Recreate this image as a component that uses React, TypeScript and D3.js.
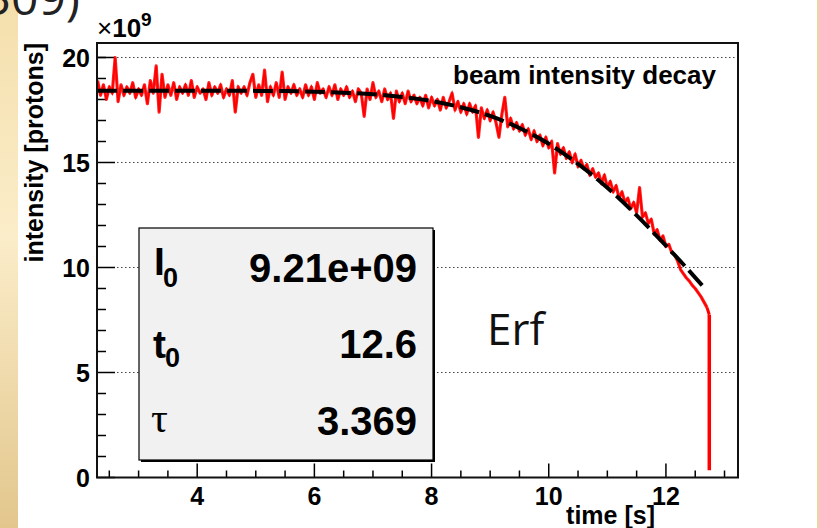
import React from "react";
import * as d3 from "d3";

// measured trace, sampled every 0.05 s from 2.30 s (x10^9 protons)
const traceStart = 2.3;
const traceStep = 0.05;
const traceValues = [
  18.9, 18.2, 18.7, 18.0, 18.6, 18.3, 20.0, 17.9, 18.7, 18.2,
  18.6, 18.3, 18.8, 18.1, 18.5, 18.2, 18.7, 17.8, 18.9, 18.3,
  19.6, 17.4, 19.2, 18.1, 18.7, 18.2, 18.8, 18.0, 18.6, 18.3,
  18.7, 18.2, 18.9, 18.1, 18.6, 18.3, 18.5, 18.0, 18.8, 18.2,
  18.6, 18.3, 18.7, 18.1, 18.5, 18.2, 18.9, 17.4, 18.6, 18.3,
  18.6, 18.2, 18.8, 19.2, 18.1, 18.7, 18.2, 19.4, 17.9, 18.6,
  18.2, 18.8, 18.1, 19.3, 18.0, 18.6, 18.3, 18.7, 18.2, 18.5,
  18.1, 18.7, 18.2, 18.6, 18.0, 18.8, 18.3, 18.5, 18.1, 18.6,
  18.2, 18.7, 18.0, 18.5, 18.2, 18.6, 18.1, 18.4, 17.9, 18.5,
  18.3, 17.2, 18.5, 18.0, 18.8, 18.1, 18.4, 17.9, 18.5, 18.0,
  18.3, 17.1, 18.4, 17.9, 18.3, 17.8, 18.4, 17.9, 18.2, 17.8,
  18.1, 17.7, 18.2, 17.6, 18.1, 17.7, 18.0, 17.5, 18.1, 17.6,
  17.9, 18.3, 17.5, 17.9, 17.4, 17.8, 17.3, 17.8, 17.4, 17.7,
  16.2, 17.6, 17.1, 17.5, 17.0, 17.4, 16.9, 16.2, 17.3, 18.1,
  16.7, 17.1, 16.6, 16.9, 16.5, 16.8, 16.3, 16.6, 16.1, 16.5,
  16.0, 16.3, 15.8, 16.2, 15.7, 16.0, 14.5, 15.9, 15.4, 15.7,
  15.2, 15.5, 15.0, 15.4, 14.8, 15.1, 14.7, 14.9, 14.4, 14.7,
  14.3, 14.5, 14.0, 14.4, 13.8, 14.1, 13.6, 13.9, 13.3, 13.6,
  13.1, 13.3, 12.8, 13.1, 12.6, 13.8, 12.4, 12.6, 12.1, 12.3,
  11.6, 11.8, 11.3, 11.5, 11.0, 11.1, 10.7, 10.6, 10.3, 9.9,
  9.7, 9.5, 9.35, 9.15, 9.0, 8.8, 8.6, 8.35, 8.1,
];
// beam dump at the end of the spill
const dropT = [12.74, 12.74];
const dropValues = [7.75, 0.35];

// Erf fit curve
const fitT = [2.29, 3, 4, 5, 5.5, 6, 6.5, 7, 7.5, 8, 8.5, 9, 9.5, 10, 10.5, 11, 11.5, 12, 12.25, 12.5, 12.67];
const fitValues = [18.42, 18.42, 18.42, 18.41, 18.4, 18.37, 18.32, 18.25, 18.12, 17.93, 17.63, 17.22, 16.64, 15.89, 14.93, 13.8, 12.48, 11.04, 10.29, 9.52, 8.99];

const xMajor = [4, 6, 8, 10, 12];
const xMinor = [2.5, 3, 3.5, 4.5, 5, 5.5, 6.5, 7, 7.5, 8.5, 9, 9.5, 10.5, 11, 11.5, 12.5, 13];
const yMajor = [0, 5, 10, 15, 20];
const yMinor = [1, 2, 3, 4, 6, 7, 8, 9, 11, 12, 13, 14, 16, 17, 18, 19, 20];
const gridY = [5, 10, 15, 20];

const statNames = ["I", "t", "τ"];
const statValues = ["9.21e+09", "12.6", "3.369"];

const W = 819;
const H = 528;
const frame = { left: 97, right: 738, top: 43, bottom: 477.5 };
const helv = "'Liberation Sans', Arial, Helvetica, sans-serif";

export default function App() {
  const x = d3.scaleLinear().domain([2.29, 13.23]).range([frame.left, frame.right]);
  const y = d3.scaleLinear().domain([0, 20.69]).range([frame.bottom, frame.top]);

  const trace = traceValues.map((v, i) => [traceStart + i * traceStep, v]);
  const line = d3
    .line()
    .x((d) => x(d[0]))
    .y((d) => y(d[1]));
  const drop = dropT.map((t, i) => [t, dropValues[i]]);
  const fitLine = d3
    .line()
    .curve(d3.curveMonotoneX)
    .x((d) => x(d[0]))
    .y((d) => y(d[1]));
  const fit = fitT.map((t, i) => [t, fitValues[i]]);

  const statRows = [275, 358, 432];
  const valueRows = [282, 358, 435];

  return (
    <svg width={W} height={H} style={{ position: "absolute", left: 0, top: 0, background: "#fff" }}>
      <defs>
        <linearGradient id="strip" x1="0" y1="0" x2="0" y2="1">
          <stop offset="0" stopColor="#f4dfac" />
          <stop offset="0.45" stopColor="#fbedc9" />
          <stop offset="1" stopColor="#e2c68c" />
        </linearGradient>
      </defs>
      <rect x={0} y={0} width={18} height={H} fill="url(#strip)" />
      <rect x={817} y={0} width={2} height={H} fill="#ead6a4" />
      <text x={80} y={15} textAnchor="end" fontFamily="'Open Sans', sans-serif" fontSize={48} fill="#222">
        309)
      </text>

      {/* grid */}
      {gridY.map((v) => (
        <line key={v} x1={frame.left} x2={frame.right} y1={y(v)} y2={y(v)} stroke="#444" strokeWidth={1} strokeDasharray="1.5 2.5" />
      ))}

      {/* ticks */}
      {xMajor.map((v) => (
        <line key={"xM" + v} x1={x(v)} x2={x(v)} y1={frame.bottom} y2={frame.bottom - 14} stroke="#000" strokeWidth={1.5} />
      ))}
      {xMinor.map((v) => (
        <line key={"xm" + v} x1={x(v)} x2={x(v)} y1={frame.bottom} y2={frame.bottom - 7} stroke="#000" strokeWidth={1.5} />
      ))}
      {yMajor.map((v) => (
        <line key={"yM" + v} x1={frame.left} x2={frame.left + 18} y1={y(v)} y2={y(v)} stroke="#000" strokeWidth={1.5} />
      ))}
      {yMinor.map((v) => (
        <line key={"ym" + v} x1={frame.left} x2={frame.left + 9} y1={y(v)} y2={y(v)} stroke="#000" strokeWidth={1.5} />
      ))}

      {/* data: thick pass for the dense noise band, thin pass for the spikes */}
      <path d={line(trace) || ""} fill="none" stroke="#ff0000" strokeWidth={3.2} strokeLinejoin="round" opacity={0.85} />
      <path d={line(trace) || ""} fill="none" stroke="#ff0000" strokeWidth={1.6} strokeLinejoin="miter" />
      <path d={line([trace[trace.length - 1], drop[0]]) || ""} fill="none" stroke="#ff0000" strokeWidth={3} />
      <path d={line(drop) || ""} fill="none" stroke="#ff0000" strokeWidth={3.5} />
      <path d={fitLine(fit) || ""} fill="none" stroke="#000" strokeWidth={4} strokeDasharray="20 6" />

      {/* frame */}
      <rect
        x={frame.left}
        y={frame.top}
        width={frame.right - frame.left}
        height={frame.bottom - frame.top}
        fill="none"
        stroke="#111"
        strokeWidth={2}
      />

      {/* axis labels */}
      <g fontFamily={helv} fontWeight="bold" fontSize={25} fill="#000">
        {xMajor.map((v) => (
          <text key={"xl" + v} x={x(v)} y={505} textAnchor="middle">
            {v}
          </text>
        ))}
        {yMajor.map((v) => (
          <text key={"yl" + v} x={90} y={y(v) + 9.5} textAnchor="end">
            {v}
          </text>
        ))}
        <text x={655} y={524} textAnchor="end">
          time [s]
        </text>
        <text transform={`translate(43,${frame.top}) rotate(-90)`} textAnchor="end">
          intensity [protons]
        </text>
      </g>
      <text x={97} y={37} fontFamily={helv} fontSize={26} fill="#000">
        <tspan>×</tspan>
        <tspan fontWeight="bold">10</tspan>
        <tspan fontWeight="bold" fontSize={19} dy={-11}>
          9
        </tspan>
      </text>
      <text x={716} y={84} textAnchor="end" fontFamily={helv} fontWeight="bold" fontSize={26}>
        beam intensity decay
      </text>

      {/* fit statistics box */}
      <rect x={141} y={230} width={294} height={232} fill="#000" />
      <rect x={139} y={228} width={294} height={232} fill="#f1f1f1" stroke="#000" strokeWidth={1.2} />
      <g fontFamily={helv} fontWeight="bold" fill="#000">
        <text x={154} y={statRows[0]} fontSize={39}>
          {statNames[0]}
        </text>
        <text x={163} y={287} fontSize={27}>
          0
        </text>
        <text x={153} y={statRows[1]} fontSize={39}>
          {statNames[1]}
        </text>
        <text x={165} y={367} fontSize={27}>
          0
        </text>
        {statValues.map((s, i) => (
          <text key={s} x={417} y={valueRows[i]} textAnchor="end" fontSize={40}>
            {s}
          </text>
        ))}
      </g>
      <text x={151} y={statRows[2]} fontFamily="'Liberation Serif', 'DejaVu Serif', serif" fontSize={42} fill="#000">
        {statNames[2]}
      </text>

      <text x={487} y={345} fontFamily="'Open Sans', sans-serif" fontSize={44} fill="#111">
        Erf
      </text>
    </svg>
  );
}
